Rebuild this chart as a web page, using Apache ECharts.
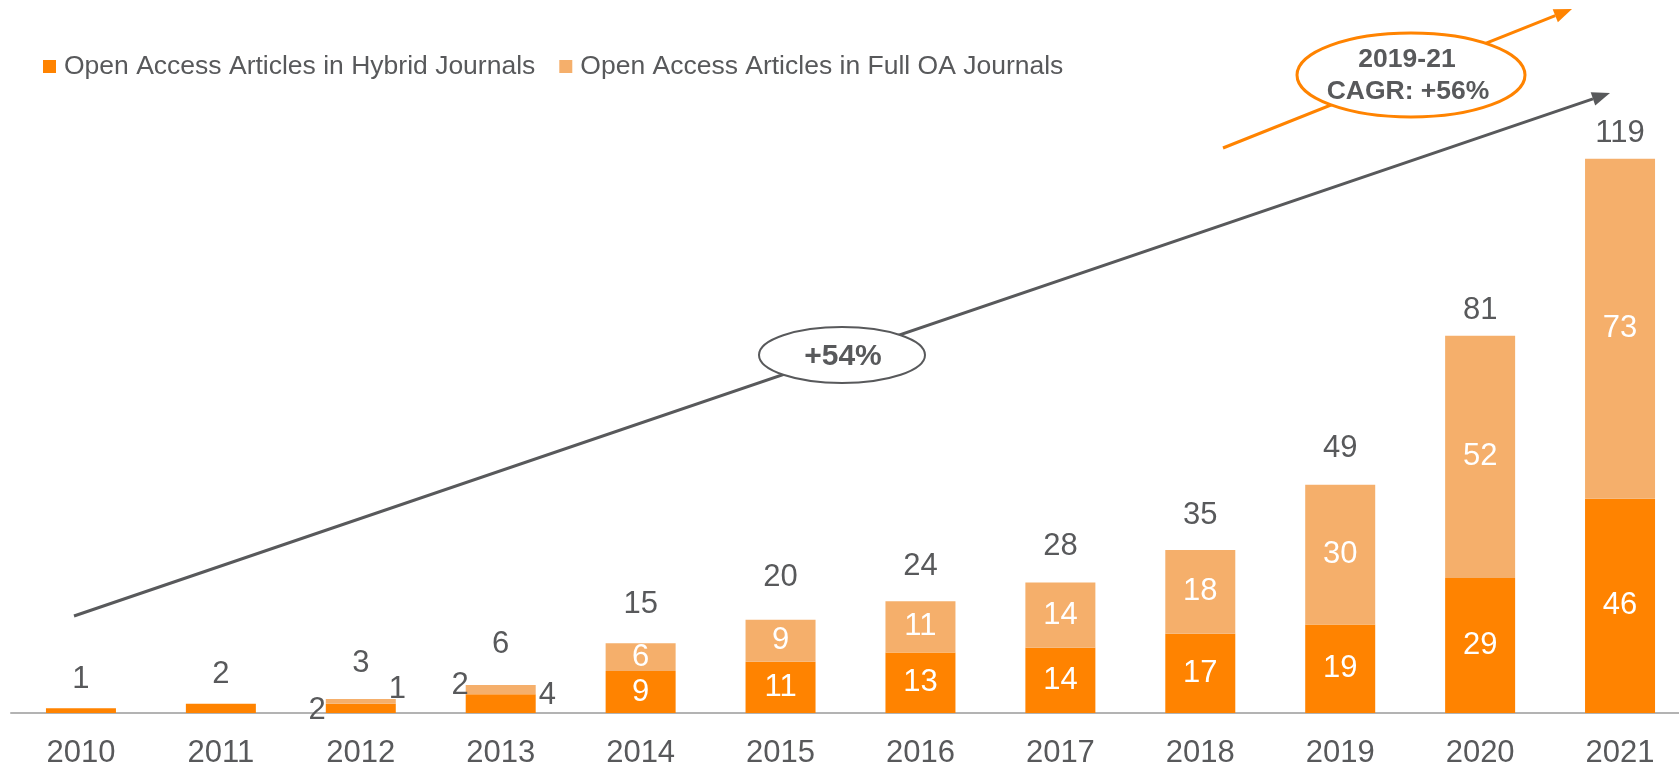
<!DOCTYPE html>
<html>
<head>
<meta charset="utf-8">
<script src="https://cdn.jsdelivr.net/npm/echarts@6/dist/echarts.min.js"></script>
<style>
    html, body { margin: 0; padding: 0; background: #fff; }
    #oa_chart { width: 1679px; height: 766px; }
</style>
</head>
<body>
<div id="oa_chart"></div>
<script>
var years = ['2010', '2011', '2012', '2013', '2014', '2015', '2016', '2017', '2018', '2019', '2020', '2021'];
var hybrid = [1, 2, 2, 4, 9, 11, 13, 14, 17, 19, 29, 46];
var fullOA = [0, 0, 1, 2, 6, 9, 11, 14, 18, 30, 52, 73];
var totals = [1, 2, 3, 6, 15, 20, 24, 28, 35, 49, 81, 119];
var seriesNames = ['Open Access Articles in Hybrid Journals', 'Open Access Articles in Full OA Journals'];
var growthAll = '+54%';
var growthRecent = ['2019-21', 'CAGR: +56%'];

var FONT = "'Liberation Sans', Arial, sans-serif";
var GREY = '#58595b';
var DARK = '#ff8300';
var LIGHT = '#f5af6b';

var oa_chart = echarts.init(document.getElementById('oa_chart'));

// labels of the tiny bars sit outside the bar
var hybridLabels = {
    0: { show: false },
    1: { show: false },
    2: { position: 'left', distance: 0, offset: [0, 2], color: GREY },
    3: { position: 'right', distance: 3, offset: [0, -8], color: GREY }
};
var fullLabels = {
    0: { show: false },
    1: { show: false },
    2: { position: 'right', distance: -7, offset: [0, -12], color: GREY },
    3: { position: 'left', distance: -3, offset: [0, -4], color: GREY }
};
// totals are not all at the same height above the bars
var totalLift = [-4, -4, -11, -16, -14, -17, -10, -11, -10, -11, 0, 0];

function withLabels(values, overrides) {
    return values.map(function (v, i) {
        return overrides[i] ? { value: v, label: overrides[i] } : v;
    });
}

// line + triangle head
function arrow(x1, y1, x2, y2, color, width) {
    var ang = Math.atan2(y2 - y1, x2 - x1);
    var len = 18, half = 7;
    var bx = x2 - len * Math.cos(ang), by = y2 - len * Math.sin(ang);
    var px = -Math.sin(ang) * half, py = Math.cos(ang) * half;
    return [
        { type: 'line', z: 10, shape: { x1: x1, y1: y1, x2: bx, y2: by }, style: { stroke: color, lineWidth: width } },
        { type: 'polygon', z: 10, shape: { points: [[x2, y2], [bx + px, by + py], [bx - px, by - py]] }, style: { fill: color } }
    ];
}

function label(text, x, y, size) {
    return {
        type: 'text', z: 12,
        style: {
            text: text, x: x, y: y, fill: GREY, font: 'bold ' + size + 'px ' + FONT,
            textAlign: 'center', textVerticalAlign: 'middle', align: 'center', verticalAlign: 'middle'
        }
    };
}

var graphics = [].concat(
    arrow(74, 616, 1610, 93, GREY, 3),
    arrow(1223, 148, 1572, 9, DARK, 3),
    [
        { type: 'ellipse', z: 11, shape: { cx: 842, cy: 355, rx: 83, ry: 28 }, style: { fill: '#fff', stroke: GREY, lineWidth: 2 } },
        label(growthAll, 843, 357, 30),
        { type: 'ellipse', z: 11, shape: { cx: 1411, cy: 75, rx: 114, ry: 42 }, style: { fill: '#fff', stroke: DARK, lineWidth: 3 } },
        label(growthRecent[0], 1407, 60, 26.5),
        label(growthRecent[1], 1408, 92, 26.5)
    ]
);

var option = {
    backgroundColor: '#fff',
    animation: false,
    textStyle: { fontFamily: FONT },
    legend: {
        data: seriesNames,
        left: 38,
        top: 48,
        itemWidth: 13,
        itemHeight: 13,
        itemGap: 24,
        icon: 'rect',
        textStyle: { fontSize: 26.5, color: GREY, lineHeight: 26, padding: [0, 0, 0, 3] }
    },
    grid: { left: 11, right: -11, top: 61, bottom: 53, outerBoundsMode: 'none' },
    xAxis: {
        type: 'category',
        data: years,
        axisLine: { lineStyle: { color: '#b3b3b3', width: 2 } },
        axisTick: { show: false },
        axisLabel: { fontSize: 31, color: GREY, margin: 25 }
    },
    yAxis: {
        type: 'value',
        min: 0,
        max: 140,
        show: false,
        splitLine: { show: false }
    },
    series: [
        {
            name: seriesNames[0],
            type: 'bar',
            stack: 'oa',
            barWidth: 70,
            itemStyle: { color: DARK },
            label: { show: true, position: 'inside', color: '#fff', fontSize: 31 },
            data: withLabels(hybrid, hybridLabels)
        },
        {
            name: seriesNames[1],
            type: 'bar',
            stack: 'oa',
            barWidth: 70,
            itemStyle: { color: LIGHT },
            label: { show: true, position: 'inside', color: '#fff', fontSize: 31 },
            data: withLabels(fullOA, fullLabels)
        },
        {
            name: 'Total',
            type: 'scatter',
            symbolSize: 1,
            silent: true,
            itemStyle: { color: 'rgba(0,0,0,0)', opacity: 1 },
            label: {
                show: true,
                position: 'top',
                distance: 9,
                color: GREY,
                fontSize: 31,
                formatter: function (p) { return totals[p.dataIndex]; }
            },
            data: totals.map(function (v, i) {
                return totalLift[i] ? { value: v, label: { offset: [0, totalLift[i]] } } : v;
            })
        }
    ],
    graphic: graphics
};

oa_chart.setOption(option);
</script>
</body>
</html>
